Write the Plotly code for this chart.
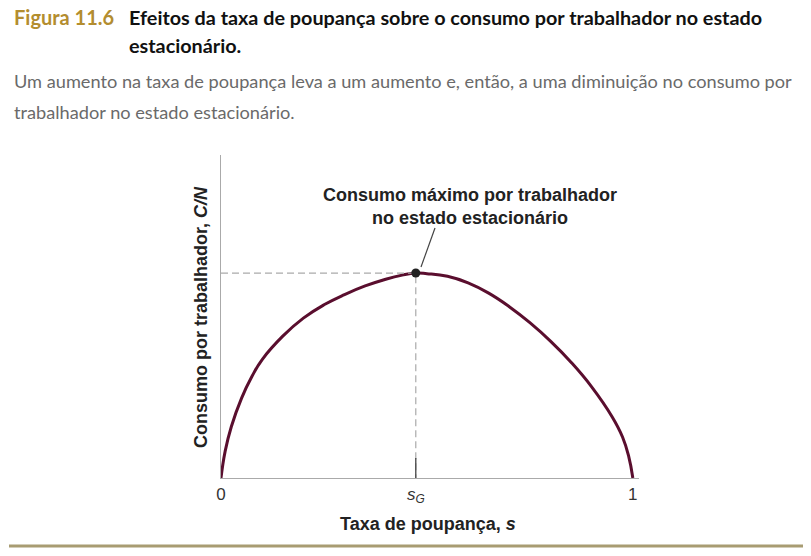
import plotly.graph_objects as go

# Data (savings rate s vs consumption per worker, peak normalised to 1)
s_vals = [0.0, 0.010, 0.025, 0.050, 0.075, 0.100, 0.150, 0.200, 0.250, 0.300, 0.350, 0.400, 0.440, 0.473,
          0.500, 0.550, 0.600, 0.650, 0.700, 0.750, 0.800, 0.850, 0.900, 0.950, 0.975, 0.990, 1.0]
c_vals = [0.0, 0.130, 0.250, 0.390, 0.495, 0.578, 0.692, 0.780, 0.845, 0.895, 0.937, 0.970, 0.990, 1.0,
          0.997, 0.984, 0.952, 0.902, 0.836, 0.758, 0.668, 0.565, 0.445, 0.298, 0.200, 0.105, 0.0]
s_golden = 0.473
c_max = 1.0
tick_vals = [0, s_golden, 1]
tick_text = ["0", "<i>s</i><sub><i>G</i></sub>", "1"]

OFF = 8  # page body margin
W, H = 811, 556
PW, PH = 418, 323
L, T = 221 - OFF, 155 - OFF
R, B = W - L - PW, H - T - PH

def px(x):
    return (x - OFF - L) / PW

def py(y):
    return (H - B - (y - OFF)) / PH

NARROW = "Lato, Roboto, Liberation Sans, sans-serif"
ARIAL = "Liberation Sans, Arial, sans-serif"
CURVE = "#5a0e2e"

fig = go.Figure()
fig.add_trace(go.Scatter(x=s_vals, y=c_vals, mode="lines", line=dict(color=CURVE, width=3, shape="spline", smoothing=1.3),
                         hoverinfo="skip", showlegend=False))
# dashed guides
fig.add_trace(go.Scatter(x=[0, s_golden, s_golden], y=[c_max, c_max, 0], mode="lines",
                         line=dict(color="#aaaaaa", width=1.2, dash="7px,4px"), hoverinfo="skip", showlegend=False))
# tick at s_G
fig.add_trace(go.Scatter(x=[s_golden, s_golden], y=[0, 0.098], mode="lines",
                         line=dict(color="#444444", width=1.3), hoverinfo="skip", showlegend=False))
fig.add_trace(go.Scatter(x=[s_golden], y=[c_max], mode="markers", marker=dict(color="#222222", size=9),
                         hoverinfo="skip", showlegend=False))

fig.update_xaxes(range=[0, 1.015], showgrid=False, zeroline=False, showline=True, linecolor="#aaaaaa",
                 linewidth=1.3, tickvals=tick_vals, ticktext=tick_text, ticks="",
                 tickfont=dict(family=ARIAL, size=17, color="#333333"), fixedrange=True)
fig.update_yaxes(range=[0, 1.576], showgrid=False, zeroline=False, showline=True, linecolor="#aaaaaa",
                 linewidth=1.3, showticklabels=False, ticks="", fixedrange=True)

ann = []
ann.append(dict(x=px(12), y=py(17), text="<b>Figura 11.6</b>", font=dict(family=NARROW, size=20, color="#b38d2f"),
                xanchor="left", yanchor="middle"))
ann.append(dict(x=px(127), y=py(17), text="<b>Efeitos da taxa de poupança sobre o consumo por trabalhador no estado</b>",
                font=dict(family=NARROW, size=19.8, color="#111111"), xanchor="left", yanchor="middle"))
ann.append(dict(x=px(127), y=py(45), text="<b>estacionário.</b>",
                font=dict(family=NARROW, size=19.8, color="#111111"), xanchor="left", yanchor="middle"))
ann.append(dict(x=px(12), y=py(81), text="Um aumento na taxa de poupança leva a um aumento e, então, a uma diminuição no consumo por",
                font=dict(family=NARROW, size=18.2, color="#6a6a6a"), xanchor="left", yanchor="middle"))
ann.append(dict(x=px(12), y=py(112), text="trabalhador no estado estacionário.",
                font=dict(family=NARROW, size=18.2, color="#6a6a6a"), xanchor="left", yanchor="middle"))
ann.append(dict(x=px(470), y=py(206), text="<b>Consumo máximo por trabalhador<br>no estado estacionário</b>",
                font=dict(family=ARIAL, size=18, color="#222222"), xanchor="center", yanchor="middle", align="center"))
ann.append(dict(x=px(428), y=py(524), text="<b>Taxa de poupança, <i>s</i></b>",
                font=dict(family=ARIAL, size=18, color="#222222"), xanchor="center", yanchor="middle"))
ann.append(dict(x=px(201), y=py(317), text="<b>Consumo por trabalhador, <i>C/N</i></b>", textangle=-90,
                font=dict(family=ARIAL, size=18, color="#222222"), xanchor="center", yanchor="middle"))
for a in ann:
    a.update(xref="paper", yref="paper", showarrow=False)

shapes = [
    dict(type="line", xref="paper", yref="paper", x0=px(421), y0=py(267), x1=px(435), y1=py(228),
         line=dict(color="#444444", width=1.2)),
    dict(type="line", xref="paper", yref="paper", x0=px(9), y0=py(546), x1=px(811), y1=py(546),
         line=dict(color="#a89c72", width=3)),
]

fig.update_layout(width=W, height=H, margin=dict(l=L, r=R, t=T, b=B), plot_bgcolor="white", paper_bgcolor="white",
                  annotations=ann, shapes=shapes, showlegend=False)
fig.write_html("out.html")
